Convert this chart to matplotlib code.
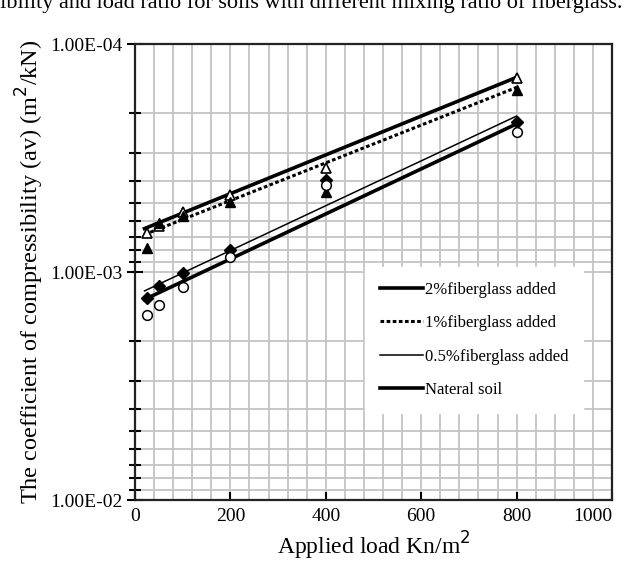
import numpy as np
import matplotlib
matplotlib.use("Agg")
import matplotlib.pyplot as plt
from matplotlib.ticker import FixedLocator, LogLocator, NullFormatter

plt.rcParams['font.family'] = ['Liberation Serif', 'DejaVu Serif']

# Applied load (kN/m2)
load = [25, 50, 100, 200, 400, 800]

# measured coefficient of compressibility av (m2/kN)
av_2pct = [6.75e-4, 6.28e-4, 5.45e-4, 4.59e-4, 3.50e-4, 1.41e-4]
av_1pct = [7.85e-4, 6.10e-4, 5.68e-4, 4.93e-4, 4.46e-4, 1.59e-4]
av_05pct = [1.30e-3, 1.15e-3, 1.01e-3, 8.00e-4, 3.94e-4, 2.20e-4]
av_natural = [1.55e-3, 1.40e-3, 1.16e-3, 8.60e-4, 4.15e-4, 2.43e-4]

# exponential trend lines (end points)
trend_load = [20, 800]
trend_2pct = [6.45e-4, 1.40e-4]
trend_1pct = [6.85e-4, 1.55e-4]
trend_05pct = [1.21e-3, 2.07e-4]
trend_natural = [1.32e-3, 2.24e-4]

legend_labels = ["2%fiberglass added", "1%fiberglass added",
                 "0.5%fiberglass added", "Nateral soil"]

fig = plt.figure(figsize=(6.29, 5.62), dpi=100)
ax = fig.add_axes([0.2146, 0.1103, 0.7584, 0.8114])

ax.set_yscale('log')
ax.set_xlim(0, 1000)
ax.set_ylim(1e-2, 1e-4)

# grid
ax.xaxis.set_minor_locator(FixedLocator(np.arange(0, 1001, 40)))
ax.yaxis.set_minor_locator(LogLocator(base=10, subs=np.arange(2, 10)))
ax.yaxis.set_minor_formatter(NullFormatter())
ax.grid(True, which='both', color='#c4c4c4', lw=1.3, zorder=0)
ax.set_axisbelow(True)

# trend lines
ax.plot(trend_load, trend_2pct, color='black', lw=2.6, label=legend_labels[0], zorder=3)
ax.plot(trend_load, trend_1pct, color='black', lw=2.2, ls=(0, (1.2, 0.8)), label=legend_labels[1], zorder=3)
ax.plot(trend_load, trend_05pct, color='black', lw=1.1, label=legend_labels[2], zorder=3)
ax.plot(trend_load, trend_natural, color='black', lw=2.6, label=legend_labels[3], zorder=3)

# measured points
ax.plot(load, av_2pct, ls='none', marker='^', ms=7, mfc='white', mec='black', mew=1.2, zorder=4)
ax.plot(load, av_1pct, ls='none', marker='^', ms=7, mfc='black', mec='black', zorder=4)
ax.plot(load, av_05pct, ls='none', marker='D', ms=6, mfc='black', mec='black', zorder=4)
ax.plot(load, av_natural, ls='none', marker='o', ms=7, mfc='white', mec='black', mew=1.1, zorder=4)

# ticks
ax.set_xticks([0, 200, 400, 600, 800, 1000])
ax.set_xticklabels(['0', '200', '400', '600', '800', '1000'])
ax.get_xticklabels()[-1].set_horizontalalignment('right')
ax.set_yticks([1e-2, 1e-3, 1e-4])
ax.set_yticklabels(['1.00E-02', '1.00E-03', '1.00E-04'])
ax.tick_params(axis='x', which='major', direction='in', length=6, width=1.5, labelsize=14, pad=6)
ax.tick_params(axis='x', which='minor', length=0)
ax.tick_params(axis='y', which='major', direction='inout', length=12, width=1.5, labelsize=14, pad=3)
ax.tick_params(axis='y', which='minor', direction='inout', length=9, width=1.5)
for sp in ax.spines.values():
    sp.set_linewidth(1.6)
    sp.set_color('#222222')

ax.set_xlabel('Applied load Kn/m$^2$', fontsize=17, labelpad=3)
ax.set_ylabel('The coefficient of compressibility (av) (m$^2$/kN)', fontsize=17.5, labelpad=3)

leg = ax.legend(loc='upper left', bbox_to_anchor=(0.482, 0.512), frameon=True,
                fontsize=12, handlelength=2.6, handletextpad=0.1, labelspacing=1.05,
                borderpad=0.9, borderaxespad=0)
leg.get_frame().set_facecolor('white')
leg.get_frame().set_edgecolor('white')
leg.get_frame().set_alpha(1)
leg.get_frame().set_boxstyle('square', pad=0)

# caption fragment cut off at the top of the screenshot
fig.text(0.99, 0.995, 'Fig. 9 The coefficient of compressibility and load ratio for soils with different mixing ratio of fiberglass.',
         ha='right', va='center', fontsize=16)

fig.savefig('out.png', dpi=100)
